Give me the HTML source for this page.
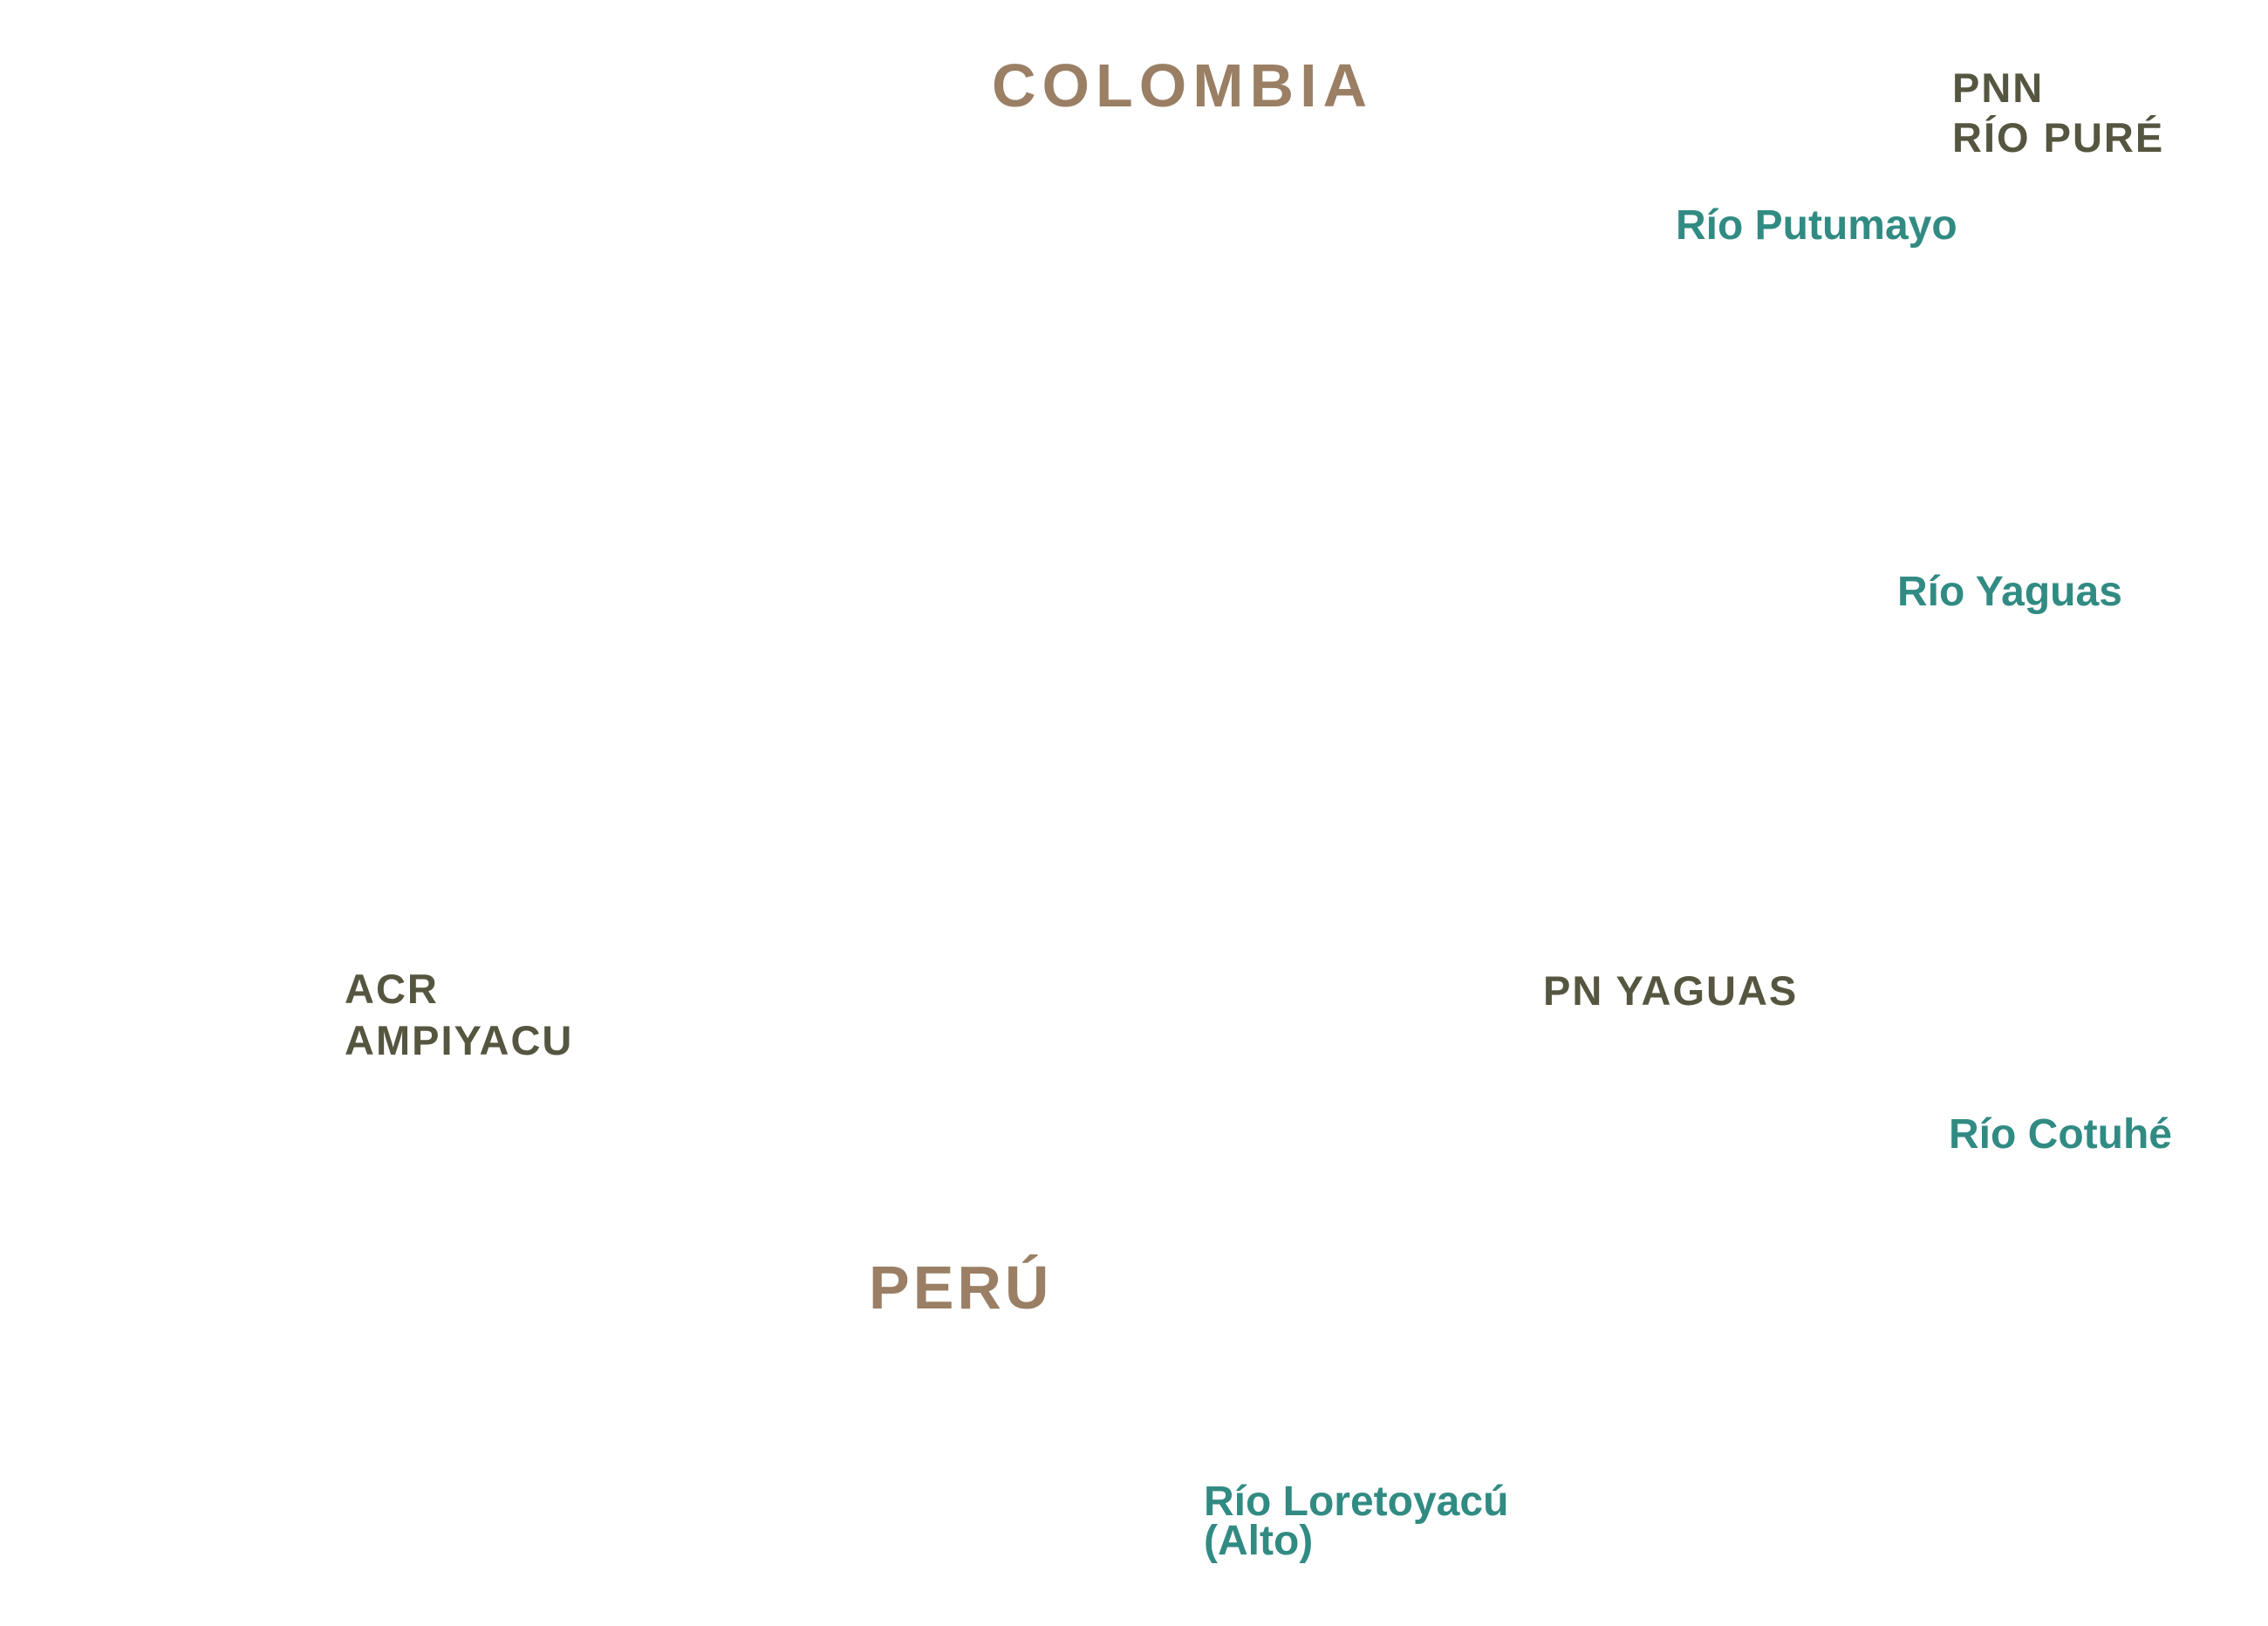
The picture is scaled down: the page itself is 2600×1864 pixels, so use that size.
<!DOCTYPE html>
<html><head><meta charset="utf-8"><style>
html,body{margin:0;padding:0;background:#fff;}
body{width:2600px;height:1864px;position:relative;overflow:hidden;font-family:"Liberation Sans",sans-serif;font-weight:bold;}
.t{position:absolute;white-space:nowrap;line-height:1;}
.c{color:#9a7f65;font-size:70px;letter-spacing:7px;}
.d{color:#565540;font-size:47px;letter-spacing:2px;}
.r{color:#318b83;font-size:48px;}
</style></head><body>
<div class="t c" style="left:1137px;top:63px;">COLOMBIA</div>
<div class="t d" style="left:2238px;top:77px;">PNN</div>
<div class="t d" style="left:2238px;top:134px;">RÍO PURÉ</div>
<div class="t r" style="left:1921px;top:235px;">Río Putumayo</div>
<div class="t r" style="left:2175px;top:655px;">Río Yaguas</div>
<div class="t d" style="left:395px;top:1110px;">ACR</div>
<div class="t d" style="left:395px;top:1169px;">AMPIYACU</div>
<div class="t d" style="left:1769px;top:1112px;">PN YAGUAS</div>
<div class="t r" style="left:2234px;top:1277px;">Río Cotuhé</div>
<div class="t c" style="left:996px;top:1441px;letter-spacing:4px;">PERÚ</div>
<div class="t r" style="left:1380px;top:1698px;">Río Loretoyacú</div>
<div class="t r" style="left:1380px;top:1743px;">(Alto)</div>
</body></html>
